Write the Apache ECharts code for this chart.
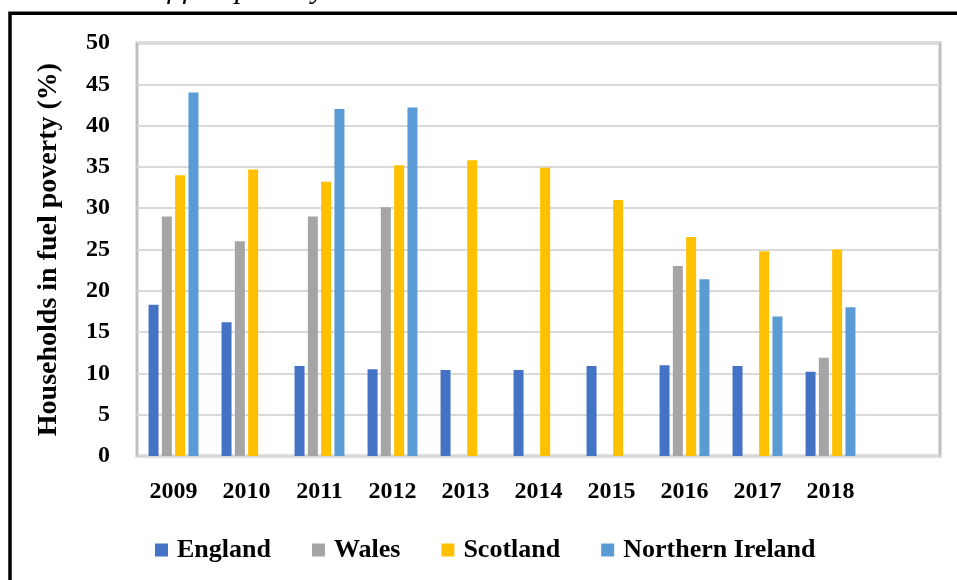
<!DOCTYPE html>
<html>
<head>
<meta charset="utf-8">
<script src="https://cdn.jsdelivr.net/npm/echarts@6/dist/echarts.min.js"></script>
<style>
  html, body { margin: 0; padding: 0; background: #ffffff; }
  #chart { width: 957px; height: 580px; }
</style>
</head>
<body>
<div id="chart"></div>
<script>
// Share of households in fuel poverty (%) by UK nation
const years = ['2009', '2010', '2011', '2012', '2013', '2014', '2015', '2016', '2017', '2018', ''];
const england = [18.3, 16.2, 10.9, 10.5, 10.4, 10.4, 10.9, 11.0, 10.9, 10.2];
const wales = [29.0, 26.0, 29.0, 30.1, null, null, null, 23.0, null, 11.9];
const scotland = [34.0, 34.7, 33.2, 35.2, 35.8, 34.9, 31.0, 26.5, 24.8, 25.0];
const northernIreland = [44.0, null, 42.0, 42.2, null, null, null, 21.4, 16.9, 18.0];
const yTicks = { min: 0, max: 50, interval: 5 };

const serif = '"Liberation Serif", "Times New Roman", serif';

const chart = echarts.init(document.getElementById('chart'), null, { renderer: 'canvas' });

function barSeries(name, data, color) {
  return {
    name: name,
    type: 'bar',
    data: data,
    barWidth: 10,
    barGap: '33%',
    itemStyle: { color: color },
    emphasis: { disabled: true }
  };
}

chart.setOption({
  animation: false,
  backgroundColor: '#ffffff',
  graphic: [
    {
      type: 'rect',
      silent: true,
      shape: { x: 10, y: 13.3, width: 1200, height: 1200 },
      style: { fill: 'none', stroke: '#000000', lineWidth: 3.5 }
    },
    {
      type: 'text',
      silent: true,
      style: {
        x: 325,
        y: 5,
        text: 'Levels of fuel poverty',
        font: 'italic 30px ' + serif,
        fill: '#000000',
        textAlign: 'right',
        textVerticalAlign: 'bottom'
      }
    }
  ],
  grid: {
    left: 137,
    right: 17,
    top: 43,
    bottom: 124,
    show: true,
    borderColor: '#bfbfbf',
    borderWidth: 3,
    backgroundColor: 'transparent'
  },
  legend: {
    left: 150,
    top: 532,
    itemWidth: 13,
    itemHeight: 13,
    itemGap: 41,
    icon: 'rect',
    selectedMode: false,
    textStyle: {
      fontFamily: serif,
      fontWeight: 'bold',
      fontSize: 26,
      color: '#000000',
      padding: [0, 0, 0, 4]
    },
    data: ['England', 'Wales', 'Scotland', 'Northern Ireland']
  },
  xAxis: {
    type: 'category',
    data: years,
    axisLine: { show: false },
    axisTick: { show: false },
    axisLabel: {
      margin: 24,
      fontFamily: serif,
      fontWeight: 'bold',
      fontSize: 24,
      color: '#000000',
      interval: 0
    },
    splitLine: { show: false }
  },
  yAxis: {
    type: 'value',
    min: yTicks.min,
    max: yTicks.max,
    interval: yTicks.interval,
    name: 'Households in fuel poverty (%)',
    nameLocation: 'middle',
    nameGap: 74,
    nameTextStyle: {
      fontFamily: serif,
      fontWeight: 'bold',
      fontSize: 28,
      color: '#000000'
    },
    axisLine: { show: false },
    axisTick: { show: false },
    axisLabel: {
      margin: 27,
      fontFamily: serif,
      fontWeight: 'bold',
      fontSize: 24,
      color: '#000000'
    },
    splitLine: { lineStyle: { color: '#d9d9d9', width: 2 } }
  },
  series: [
    barSeries('England', england, '#4472c4'),
    barSeries('Wales', wales, '#a5a5a5'),
    barSeries('Scotland', scotland, '#ffc000'),
    barSeries('Northern Ireland', northernIreland, '#5b9bd5')
  ]
});
</script>
</body>
</html>
